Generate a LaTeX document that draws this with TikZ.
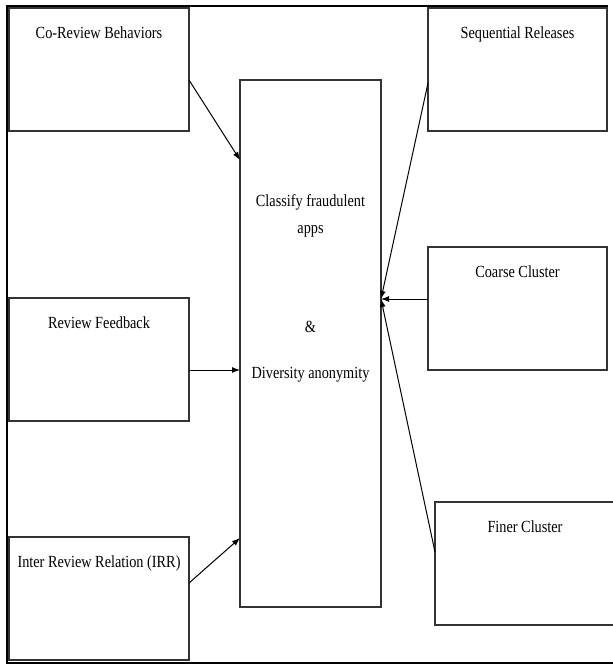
\documentclass[tikz,border=0pt]{standalone}
\usepackage{fontspec}
\setmainfont[FakeStretch=0.84]{Liberation Serif}
\usetikzlibrary{arrows.meta}

\begin{document}
\begin{tikzpicture}[x=1pt, y=-1pt, >={Latex[length=8pt,width=6pt]},
  box/.style={draw=black!80, line width=1.1pt, inner sep=0pt, outer sep=0pt,
    anchor=north west, minimum width=180pt, text height=30pt, text depth=93pt,
    font=\fontsize{17}{27}\selectfont},
  mainbox/.style={draw=black!80, line width=1.1pt, inner sep=0pt, outer sep=0pt,
    anchor=north west, minimum width=141pt, minimum height=527pt},
  link/.style={->, line width=1pt}]
  \useasboundingbox (0,0) rectangle (613,664);
  % outer frame, open on the right
  \draw[line width=2pt] (608,6) -- (7,6) -- (7,663) -- (613,663);

  \node (cor) [box] at (9,8) {Co-Review Behaviors};
  \node (rf) [box] at (9,298) {Review Feedback};
  \node (irr) [box] at (9,537) {Inter Review Relation (IRR)};
  \node (seq) [box, minimum width=179pt] at (428,8) {Sequential Releases};
  \node (coarse) [box, minimum width=179pt] at (428,247) {Coarse Cluster};
  \node (finer) [box] at (435,502) {Finer Cluster};

  \node (clf) [mainbox] at (240,80) {};
  \node (clftxt) [anchor=north, align=center, inner sep=0pt,
    font=\fontsize{17}{27}\selectfont] at (310.5,194)
    {Classify fraudulent\\apps\\[72pt]\&\\[19pt]Diversity anonymity};

  \draw[link] ([yshift=-72pt]cor.north east) -- ([yshift=-80pt]clf.north west);
  \draw[link] ([yshift=-72pt]rf.north east) -- ([yshift=-290pt]clf.north west);
  \draw[link] ([yshift=-46pt]irr.north east) -- ([yshift=-458pt]clf.north west);
  \draw[link] ([yshift=-75pt]seq.north west) -- ([yshift=-219pt]clf.north east);
  \draw[link] ([yshift=-52pt]coarse.north west) -- ([yshift=-219pt]clf.north east);
  \draw[link] ([yshift=-50pt]finer.north west) -- ([yshift=-219pt]clf.north east);
\end{tikzpicture}
\end{document}
